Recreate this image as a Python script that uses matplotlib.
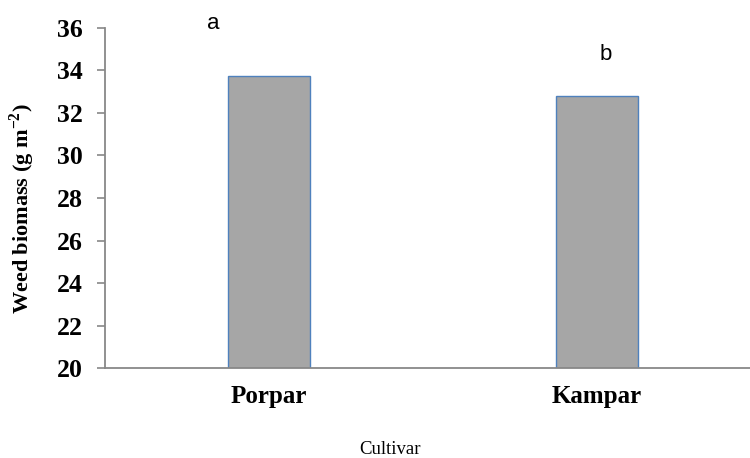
import matplotlib.pyplot as plt

cultivars = ['Porpar', 'Kampar']
biomass = [33.72, 32.79]
letters = ['a', 'b']

plt.rcParams['mathtext.fontset'] = 'custom'
plt.rcParams['mathtext.bf'] = 'Liberation Serif:bold'
plt.rcParams['mathtext.rm'] = 'Liberation Serif'

fig = plt.figure(figsize=(7.5, 4.58), dpi=100)
ax = fig.add_axes([105 / 750, 1 - 368.3 / 458, (750 - 105) / 750, (368.3 - 27.7) / 458])

ax.bar(range(len(cultivars)), biomass, width=0.25, color='#a6a6a6',
       edgecolor='#4f81bd', linewidth=1.0, zorder=2)

ax.set_xlim(-0.5, 1.466)
ax.set_ylim(20, 36)
ax.set_yticks(range(20, 37, 2))
ax.set_xticks(range(len(cultivars)))
ax.set_xticklabels(cultivars, fontsize=18, fontweight='bold', family='Liberation Serif')
for lab in ax.get_yticklabels():
    lab.set_fontsize(18.5)
    lab.set_fontweight('bold')
    lab.set_family('Liberation Serif')

ax.spines['top'].set_visible(False)
ax.spines['right'].set_visible(False)
ax.spines['left'].set_color('#888888')
ax.spines['bottom'].set_color('#888888')
ax.spines['left'].set_linewidth(1.3)
ax.spines['bottom'].set_linewidth(1.3)
ax.tick_params(axis='y', direction='out', length=6, width=1.2, color='#888888', pad=10)
ax.tick_params(axis='x', length=0, pad=12)

ax.set_ylabel('Weed biomass (g m$^{\\mathbf{-2}}$)', fontsize=16, fontweight='bold',
              family='Liberation Serif', va='center')
ax.yaxis.set_label_coords((22 - 105) / 645, (368.3 - 209) / 340.6)

# significance letters
ax.text(-0.17, 36.2, letters[0], fontsize=16, family='Liberation Sans', ha='center', va='center')
ax.text(1.027, 34.72, letters[1], fontsize=16, family='Liberation Sans', ha='center', va='center')

fig.text(390 / 750, 1 - 450 / 458, 'Cultivar', fontsize=13.5, family='Liberation Serif',
         ha='center', va='center')

plt.savefig('out.png', dpi=100)
